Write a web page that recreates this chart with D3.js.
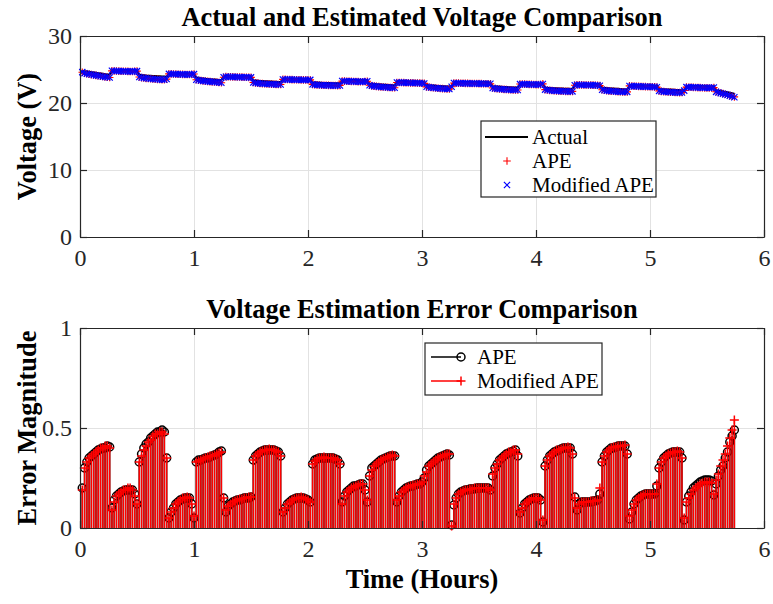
<!DOCTYPE html>
<html>
<head>
<meta charset="utf-8">
<script src="https://d3js.org/d3.v7.min.js"></script>
<style>
  body { margin: 0; background: #fff; }
  text { font-family: "Liberation Serif", "Times New Roman", serif; }
</style>
</head>
<body>
<div id="chart"></div>
<script>

// logged sample interval (hours); sample i sits at (i+1)*dt
var dt = 0.02;

// measured terminal voltage (V), one value per sample
var voltActual = [
  24.80,24.75,24.70,24.65,24.60,24.55,24.50,24.45,24.40,24.35,24.30,24.25,24.20,
  24.90,24.92,24.93,24.93,24.93,24.92,24.92,24.91,24.90,24.90,24.89,24.88,
  24.20,24.16,24.13,24.10,24.08,24.06,24.04,24.02,24.00,23.98,23.96,23.94,23.92,
  24.40,24.42,24.43,24.43,24.43,24.42,24.42,24.41,24.40,24.40,24.39,24.38,
  23.80,23.74,23.69,23.65,23.61,23.58,23.55,23.52,23.49,23.46,23.43,23.40,
  24.00,24.02,24.03,24.03,24.03,24.02,24.02,24.01,24.00,24.00,23.99,23.98,23.98,
  23.40,23.36,23.33,23.30,23.28,23.26,23.24,23.22,23.20,23.18,23.16,23.14,23.12,
  23.60,23.62,23.63,23.63,23.63,23.62,23.62,23.61,23.60,23.60,23.59,23.58,23.58,
  23.10,23.07,23.05,23.03,23.01,23.00,22.99,22.98,22.97,22.96,22.95,22.94,22.93,
  23.40,23.42,23.43,23.43,23.43,23.42,23.42,23.41,23.40,23.40,23.39,23.38,
  22.90,22.86,22.83,22.80,22.77,22.75,22.73,22.71,22.69,22.67,22.65,22.63,
  23.20,23.22,23.23,23.23,23.23,23.22,23.22,23.21,23.20,23.20,23.19,23.18,23.18,
  22.70,22.66,22.63,22.60,22.57,22.55,22.53,22.51,22.49,22.47,22.45,22.43,
  23.10,23.12,23.13,23.13,23.13,23.12,23.12,23.11,23.11,23.10,23.10,23.09,23.09,23.08,23.08,23.07,23.07,
  22.50,22.47,22.45,22.43,22.41,22.40,22.38,22.36,22.35,22.33,22.32,22.30,
  22.90,22.92,22.93,22.93,22.92,22.92,22.91,22.90,22.90,22.89,22.88,
  22.30,22.27,22.25,22.23,22.21,22.20,22.18,22.17,22.15,22.14,22.13,22.11,22.10,
  22.80,22.82,22.83,22.83,22.82,22.82,22.81,22.80,22.80,22.79,22.78,22.78,
  22.30,22.26,22.23,22.20,22.17,22.15,22.13,22.11,22.09,22.07,22.05,22.03,
  22.60,22.62,22.63,22.63,22.63,22.62,22.62,22.61,22.60,22.60,22.59,22.58,22.58,
  22.10,22.07,22.05,22.03,22.01,22.00,21.98,21.96,21.95,21.93,21.92,21.90,
  22.50,22.52,22.53,22.53,22.53,22.52,22.52,22.51,22.50,22.50,22.49,22.48,22.48,
  21.90,21.84,21.78,21.72,21.66,21.60,21.53,21.46,21.40
];

// |actual - estimate| for APE
var errAPE = [
  0.20,0.30,0.33,0.35,0.36,0.37,0.38,0.39,0.395,0.40,0.40,0.41,0.405,
  0.10,0.14,0.16,0.17,0.18,0.185,0.19,0.19,0.19,0.19,0.17,0.12,
  0.33,0.37,0.40,0.42,0.43,0.45,0.46,0.47,0.48,0.48,0.49,0.48,0.35,
  0.05,0.08,0.10,0.12,0.13,0.14,0.145,0.15,0.15,0.15,0.12,0.05,
  0.33,0.34,0.34,0.345,0.35,0.35,0.355,0.36,0.365,0.37,0.38,0.385,
  0.15,0.08,0.11,0.12,0.13,0.135,0.14,0.14,0.145,0.15,0.15,0.15,0.155,
  0.34,0.36,0.37,0.38,0.385,0.39,0.39,0.39,0.39,0.39,0.385,0.38,0.36,
  0.08,0.10,0.12,0.13,0.14,0.145,0.15,0.15,0.15,0.15,0.145,0.14,0.13,
  0.32,0.34,0.345,0.35,0.35,0.35,0.35,0.35,0.35,0.35,0.345,0.34,0.32,
  0.13,0.16,0.18,0.19,0.20,0.21,0.21,0.215,0.22,0.22,0.19,0.13,
  0.26,0.30,0.31,0.32,0.33,0.34,0.345,0.35,0.355,0.36,0.36,0.36,
  0.13,0.16,0.18,0.19,0.20,0.205,0.21,0.21,0.215,0.22,0.22,0.23,0.25,
  0.29,0.31,0.32,0.33,0.34,0.35,0.355,0.36,0.365,0.37,0.365,0.015,
  0.115,0.15,0.17,0.18,0.185,0.19,0.19,0.195,0.195,0.195,0.20,0.20,0.20,0.20,0.20,0.20,0.19,
  0.26,0.30,0.32,0.34,0.35,0.36,0.37,0.375,0.38,0.385,0.39,0.36,
  0.075,0.10,0.12,0.13,0.14,0.145,0.15,0.15,0.15,0.14,0.03,
  0.31,0.34,0.36,0.37,0.38,0.385,0.39,0.395,0.40,0.40,0.40,0.40,0.37,
  0.155,0.09,0.12,0.13,0.13,0.13,0.13,0.13,0.135,0.135,0.14,0.17,
  0.33,0.36,0.38,0.39,0.40,0.40,0.405,0.41,0.41,0.41,0.41,0.37,
  0.045,0.08,0.12,0.14,0.15,0.16,0.165,0.17,0.17,0.17,0.17,0.17,0.21,
  0.30,0.33,0.35,0.36,0.37,0.375,0.38,0.38,0.38,0.38,0.35,0.04,
  0.13,0.16,0.18,0.20,0.21,0.22,0.23,0.235,0.24,0.24,0.24,0.235,0.165,
  0.22,0.26,0.29,0.31,0.35,0.38,0.43,0.46,0.49
];

// |actual - estimate| for Modified APE
var errMod = [
  0.19,0.30,0.33,0.35,0.36,0.37,0.38,0.39,0.40,0.40,0.41,0.41,0.40,
  0.09,0.13,0.16,0.17,0.18,0.19,0.19,0.20,0.20,0.19,0.16,0.12,
  0.33,0.36,0.39,0.41,0.43,0.44,0.46,0.47,0.47,0.48,0.48,0.47,0.35,
  0.05,0.08,0.10,0.12,0.13,0.14,0.15,0.15,0.155,0.15,0.12,0.06,
  0.33,0.335,0.34,0.345,0.35,0.355,0.36,0.36,0.365,0.37,0.375,0.38,
  0.15,0.09,0.11,0.12,0.13,0.135,0.14,0.145,0.145,0.15,0.15,0.155,0.155,
  0.34,0.36,0.37,0.38,0.385,0.39,0.39,0.395,0.39,0.39,0.385,0.38,0.36,
  0.08,0.10,0.12,0.13,0.14,0.145,0.15,0.15,0.155,0.15,0.145,0.14,0.13,
  0.32,0.335,0.345,0.35,0.35,0.355,0.35,0.35,0.35,0.35,0.345,0.34,0.32,
  0.12,0.16,0.18,0.19,0.20,0.205,0.21,0.215,0.22,0.22,0.19,0.14,
  0.26,0.29,0.31,0.32,0.33,0.34,0.345,0.35,0.355,0.36,0.365,0.36,
  0.14,0.16,0.18,0.19,0.20,0.205,0.21,0.215,0.215,0.22,0.22,0.23,0.26,
  0.28,0.31,0.32,0.33,0.34,0.35,0.355,0.36,0.365,0.37,0.37,0.01,
  0.12,0.15,0.17,0.18,0.185,0.19,0.19,0.195,0.195,0.20,0.20,0.20,0.20,0.20,0.20,0.20,0.19,
  0.27,0.30,0.32,0.34,0.35,0.36,0.37,0.38,0.38,0.39,0.39,0.37,
  0.08,0.10,0.12,0.13,0.14,0.145,0.15,0.15,0.15,0.14,0.04,
  0.31,0.34,0.36,0.37,0.38,0.39,0.39,0.395,0.40,0.40,0.405,0.40,0.37,
  0.15,0.10,0.12,0.13,0.13,0.13,0.13,0.135,0.135,0.135,0.14,0.20,
  0.33,0.36,0.38,0.39,0.40,0.405,0.405,0.41,0.41,0.41,0.415,0.37,
  0.06,0.09,0.12,0.14,0.15,0.16,0.165,0.17,0.17,0.17,0.17,0.17,0.22,
  0.30,0.33,0.35,0.36,0.37,0.375,0.38,0.38,0.385,0.38,0.35,0.05,
  0.13,0.15,0.17,0.19,0.20,0.21,0.22,0.225,0.23,0.23,0.23,0.225,0.17,
  0.24,0.27,0.31,0.34,0.37,0.41,0.45,0.49,0.54
];

var xTicks = [0, 1, 2, 3, 4, 5, 6];
var vTicks = [0, 10, 20, 30];
var eTicks = [0, 0.5, 1];

var W = 773, H = 604;
var axisCol = "#262626", gridCol = "#e2e2e2";
var serif = '"Liberation Serif", "Times New Roman", serif';

var svg = d3.select("#chart").append("svg")
  .attr("width", W).attr("height", H)
  .style("background", "#fff");

var x = d3.scaleLinear().domain([0, 6]).range([80, 764]);
var yV = d3.scaleLinear().domain([0, 30]).range([237, 36]);
var yE = d3.scaleLinear().domain([0, 1]).range([528, 328]);

var samples = voltActual.map(function(v, i) {
  return {
    t: (i + 1) * dt,
    v: v,
    vApe: v - errAPE[i],
    vMod: v - errMod[i],
    eApe: errAPE[i],
    eMod: errMod[i]
  };
});

function plusPath(s) { return "M" + (-s) + ",0H" + s + "M0," + (-s) + "V" + s; }
function crossPath(s) { return "M" + (-s) + "," + (-s) + "L" + s + "," + s + "M" + (-s) + "," + s + "L" + s + "," + (-s); }

// grid, box, inward ticks and labels for one axes
function frame(y, yTicks, yFmt) {
  var top = y.range()[1], bottom = y.range()[0];
  var left = x.range()[0], right = x.range()[1];
  var g = svg.append("g");

  g.append("g").attr("transform", "translate(0," + bottom + ")")
    .call(d3.axisBottom(x).tickValues(xTicks).tickSize(-(bottom - top)).tickFormat(""))
    .call(function(s) { s.select(".domain").remove(); s.selectAll("line").attr("stroke", gridCol); });
  g.append("g").attr("transform", "translate(" + left + ",0)")
    .call(d3.axisLeft(y).tickValues(yTicks).tickSize(-(right - left)).tickFormat(""))
    .call(function(s) { s.select(".domain").remove(); s.selectAll("line").attr("stroke", gridCol); });

  return {
    axes: function() {
      var ax = svg.append("g");
      ax.append("g").attr("transform", "translate(0," + bottom + ")")
        .call(d3.axisBottom(x).tickValues(xTicks).tickSizeInner(-7).tickSizeOuter(0)
          .tickPadding(12).tickFormat(d3.format("d")));
      ax.append("g").attr("transform", "translate(0," + top + ")")
        .call(d3.axisTop(x).tickValues(xTicks).tickSizeInner(-7).tickSizeOuter(0).tickFormat(""));
      ax.append("g").attr("transform", "translate(" + left + ",0)")
        .call(d3.axisLeft(y).tickValues(yTicks).tickSizeInner(-7).tickSizeOuter(0).tickPadding(8).tickFormat(yFmt));
      ax.append("g").attr("transform", "translate(" + right + ",0)")
        .call(d3.axisRight(y).tickValues(yTicks).tickSizeInner(-7).tickSizeOuter(0).tickFormat(""));
      ax.selectAll(".domain").attr("stroke", axisCol).attr("stroke-width", 1.2);
      ax.selectAll(".tick line").attr("stroke", axisCol).attr("stroke-width", 1.2);
      ax.selectAll(".tick text").attr("fill", axisCol)
        .attr("font-family", serif).attr("font-size", 24);
      return ax;
    }
  };
}

// ---------- top: voltage ----------
var f1 = frame(yV, vTicks, d3.format("d"));

svg.append("path")
  .datum(samples)
  .attr("fill", "none").attr("stroke", "#000").attr("stroke-width", 2)
  .attr("d", d3.line().x(function(d) { return x(d.t); }).y(function(d) { return yV(d.v); }));

svg.append("g").selectAll("path").data(samples).enter().append("path")
  .attr("transform", function(d) { return "translate(" + x(d.t) + "," + yV(d.vApe) + ")"; })
  .attr("d", plusPath(3.8)).attr("stroke", "#ff0000").attr("stroke-width", 1.1).attr("fill", "none");

svg.append("g").selectAll("path").data(samples).enter().append("path")
  .attr("transform", function(d) { return "translate(" + x(d.t) + "," + yV(d.vMod) + ")"; })
  .attr("d", crossPath(3.1)).attr("stroke", "#0000ff").attr("stroke-width", 1.2).attr("fill", "none");

f1.axes();

// ---------- bottom: error stems ----------
var f2 = frame(yE, eTicks, function(d) { return d === 0.5 ? "0.5" : d3.format("d")(d); });

// APE stems (black, circles)
var gA = svg.append("g");
gA.selectAll("line").data(samples).enter().append("line")
  .attr("x1", function(d) { return x(d.t); }).attr("x2", function(d) { return x(d.t); })
  .attr("y1", yE(0)).attr("y2", function(d) { return yE(d.eApe); })
  .attr("stroke", "#000").attr("stroke-width", 1.5);
gA.selectAll("circle").data(samples).enter().append("circle")
  .attr("cx", function(d) { return x(d.t); }).attr("cy", function(d) { return yE(d.eApe); })
  .attr("r", 4).attr("fill", "none").attr("stroke", "#000").attr("stroke-width", 1.5);

// Modified APE stems (red, plus)
var gM = svg.append("g");
gM.selectAll("line").data(samples).enter().append("line")
  .attr("x1", function(d) { return x(d.t); }).attr("x2", function(d) { return x(d.t); })
  .attr("y1", yE(0)).attr("y2", function(d) { return yE(d.eMod); })
  .attr("stroke", "#ff0000").attr("stroke-width", 1.5);
gM.selectAll("path").data(samples).enter().append("path")
  .attr("transform", function(d) { return "translate(" + x(d.t) + "," + yE(d.eMod) + ")"; })
  .attr("d", plusPath(4.5)).attr("stroke", "#ff0000").attr("stroke-width", 1.5).attr("fill", "none");

f2.axes();

// ---------- titles and labels ----------
function label(txt, tx, ty, rot) {
  svg.append("text")
    .attr("transform", "translate(" + tx + "," + ty + ")" + (rot ? " rotate(-90)" : ""))
    .attr("text-anchor", "middle")
    .attr("font-family", serif).attr("font-size", 26.4).attr("font-weight", "bold")
    .attr("fill", "#000")
    .text(txt);
}
label("Actual and Estimated Voltage Comparison", 422, 26);
label("Voltage Estimation Error Comparison", 422, 318);
label("Time (Hours)", 422, 588);
label("Voltage (V)", 36, 136.5, true);
label("Error Magnitude", 36, 428, true);

// ---------- legends ----------
function legendBox(bx, by, bw, bh) {
  var g = svg.append("g");
  g.append("rect").attr("x", bx).attr("y", by).attr("width", bw).attr("height", bh)
    .attr("fill", "#fff").attr("stroke", axisCol).attr("stroke-width", 1.2);
  return g;
}
function legendText(g, txt, tx, ty) {
  g.append("text").attr("x", tx).attr("y", ty + 7)
    .attr("font-family", serif).attr("font-size", 21).attr("fill", "#000").text(txt);
}

var lg1 = legendBox(481, 121, 175, 76);
lg1.append("line").attr("x1", 485).attr("x2", 528).attr("y1", 137).attr("y2", 137)
  .attr("stroke", "#000").attr("stroke-width", 2);
legendText(lg1, "Actual", 532, 137);
lg1.append("path").attr("transform", "translate(507,161)").attr("d", plusPath(3.8))
  .attr("stroke", "#ff0000").attr("stroke-width", 1.1).attr("fill", "none");
legendText(lg1, "APE", 532, 161);
lg1.append("path").attr("transform", "translate(507,185)").attr("d", crossPath(3.1))
  .attr("stroke", "#0000ff").attr("stroke-width", 1.2).attr("fill", "none");
legendText(lg1, "Modified APE", 532, 185);

var lg2 = legendBox(425, 343, 177, 52);
lg2.append("line").attr("x1", 431).attr("x2", 461).attr("y1", 357).attr("y2", 357)
  .attr("stroke", "#000").attr("stroke-width", 1.5);
lg2.append("circle").attr("cx", 461).attr("cy", 357).attr("r", 4)
  .attr("fill", "none").attr("stroke", "#000").attr("stroke-width", 1.5);
legendText(lg2, "APE", 477, 357);
lg2.append("line").attr("x1", 431).attr("x2", 461).attr("y1", 381).attr("y2", 381)
  .attr("stroke", "#ff0000").attr("stroke-width", 1.5);
lg2.append("path").attr("transform", "translate(461,381)").attr("d", plusPath(4.5))
  .attr("stroke", "#ff0000").attr("stroke-width", 1.5).attr("fill", "none");
legendText(lg2, "Modified APE", 477, 381);

</script>
</body>
</html>
